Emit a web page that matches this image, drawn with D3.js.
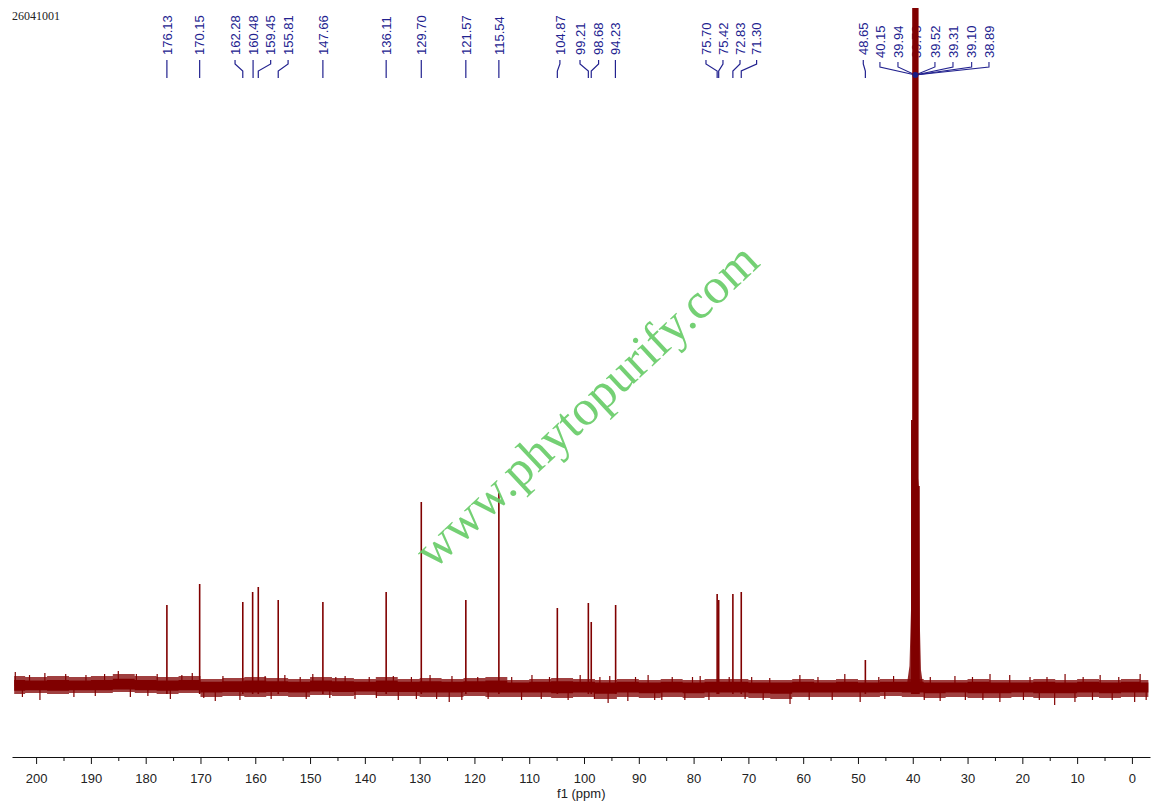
<!DOCTYPE html>
<html>
<head>
<meta charset="utf-8">
<script src="https://cdn.jsdelivr.net/npm/d3@7"></script>
<style>
  body { margin: 0; background: #fff; }
  svg { display: block; }
  .axis text { font-family: "Liberation Sans", Arial, sans-serif; font-size: 13px; fill: #222; }
  .axis path, .axis line { stroke: #111; }
  .plabel { font-family: "Liberation Sans", Arial, sans-serif; font-size: 13px; fill: #22228f; }
</style>
</head>
<body>
<svg id="chart" width="1153" height="809"></svg>
<script>
// peak list (ppm) and intensities
const peakPpm = [176.13, 170.15, 162.28, 160.48, 159.45, 155.81, 147.66, 136.11, 129.70, 121.57,
                 115.54, 104.87, 99.21, 98.68, 94.23, 75.70, 75.42, 72.83, 71.30, 48.65];
const peakHeight = [40.5, 51, 42, 47, 49.5, 43, 42, 47, 92, 43,
                    96.5, 39, 41.5, 32, 40.5, 46, 43, 46, 47, 13];

// DMSO-d6 septet
const solventPpm = [40.15, 39.94, 39.73, 39.52, 39.31, 39.10, 38.89];
const solventHeight = [133, 420, 800, 930, 800, 400, 100];

// where the peak labels sit (ppm), as placed in the picture
const labelText = ["176.13", "170.15", "162.28", "160.48", "159.45", "155.81", "147.66", "136.11", "129.70", "121.57",
                   "115.54", "104.87", "99.21", "98.68", "94.23", "75.70", "75.42", "72.83", "71.30", "48.65"];
const labelPpm = [176.13, 170.15, 163.69, 160.40, 157.19, 154.01, 147.66, 136.11, 129.70, 121.57,
                  115.54, 104.40, 100.73, 97.34, 94.27, 77.74, 74.64, 71.53, 68.50, 49.03];
const solventLabelText = ["40.15", "39.94", "39.73", "39.52", "39.31", "39.10", "38.89"];
const solventLabelPpm = [45.99, 42.70, 39.42, 35.95, 32.66, 29.25, 26.09];

// baseline noise envelope
const noisePpm = [204, 200, 196, 192, 188, 184, 180, 176, 172, 168, 164, 160, 156, 152, 148, 144, 140, 136, 132, 128,
                  124, 120, 116, 112, 108, 104, 100, 96, 92, 88, 84, 80, 76, 72, 68, 64, 60, 56, 52, 48,
                  44, 40, 36, 32, 28, 24, 20, 16, 12, 8, 4, 0, -3];
const noiseTop = [5, 4.5, 5, 4.5, 5, 6, 5, 4.5, 5, 3.5, 4, 4.5, 4, 3.5, 4.5, 4, 3.5, 4.5, 3.5, 4,
                  3.5, 4, 4.5, 3, 3.5, 4, 3.5, 3, 3.5, 3, 3.5, 3, 3.5, 3.5, 3, 3, 3.5, 3, 3.5, 3,
                  3.5, 3.5, 3, 3, 3.5, 3, 3, 3.5, 3, 3.5, 3, 3.5, 3];
const noiseBottom = [-4, -3.5, -4, -3.5, -3.5, -3, -3.5, -4, -3.5, -5.5, -5, -5.5, -5, -5.5, -4.5, -5, -4.5, -5, -5, -5.5,
                     -5.5, -5, -5.5, -5.5, -5.5, -6, -5.5, -6.5, -5.5, -6, -5.5, -6, -5.5, -5.5, -6, -6.5, -5.5, -5.5, -5.5, -5.5,
                     -5, -5.5, -6, -5.5, -6, -6, -5.5, -6, -6, -5.5, -6, -5.5, -5.5];
// the larger noise spikes poking out of the band
const spikePpm = [203.8, 201.2, 198.4, 194.6, 190.9, 187.5, 185, 181.7, 177.9, 173.4, 171.5, 165.9, 158.2, 154.6, 151.8,
                  149.5, 145.3, 143.6, 139.2, 134.8, 131.5, 128.1, 124.1, 119.4, 113.2, 109.5, 106.3, 100.7, 97.1, 95.3,
                  90.6, 88.3, 83.9, 80.2, 78.8, 73.5, 69.4, 66.1, 60.6, 57.3, 52.4, 46.2, 43.5, 36.8, 32.3, 29.1, 25.9,
                  22.3, 18.6, 15.5, 12.2, 8.9, 5.8, 2.4, -1.5,
                  202.5, 199.3, 193.1, 189.2, 182.8, 179.6, 175.5, 169.4, 167.3, 162.8, 157.1, 150.7, 146.4, 141.8,
                  137.9, 133.9, 130.6, 126.9, 124.6, 122.3, 117.5, 111.4, 107.8, 102.9, 98.1, 95.6, 92, 87.1, 85.8,
                  81.6, 77.2, 70.6, 67.3, 62.4, 58.9, 54.7, 49.6, 45.1, 37.9, 35, 30.4, 27.2, 24.1, 19.8, 16.9, 14.1,
                  10.4, 7.2, 3.6, -0.5, -2.6];
const spikeVal = [7, 5.5, 6.5, 6, 5.5, 6, 7.5, 6, 6, 5.5, 6.5, 5, 5, 5.5, 4.5,
                  6, 4.5, 5, 4.5, 5, 4.5, 5.5, 5, 4.5, 4.5, 5.5, 4.5, 5.5, 4.5, 5,
                  4.5, 5.5, 4.5, 4.5, 5, 4.5, 4.5, 4, 5.5, 4.5, 6, 4.5, 5, 4.5, 5, 4.5, 6,
                  5.5, 4.5, 4.5, 6, 4.5, 5.5, 4.5, 6,
                  -5.5, -7, -5.5, -5, -5.5, -5, -6.5, -6, -7.5, -7, -6.5, -6.5, -6, -6.5,
                  -6, -7, -6.5, -6.5, -8, -7, -6.5, -7, -6.5, -7, -6.5, -8.5, -7.5, -7, -7,
                  -7, -7, -6.5, -7, -9, -7, -7, -8, -6.5, -7, -7.5, -7, -7, -8, -7, -7, -9.5,
                  -8, -7, -7, -8, -7];

const xTicks = d3.range(0, 201, 10);
const xMinor = d3.range(5, 200, 10);

const red = "#800000";
const blue = "#22228f";
const svg = d3.select("#chart");

const x = d3.scaleLinear().domain([204.4, -3.3]).range([12, 1150]);
const y = d3.scaleLinear().domain([0, 100]).range([686, 486]);

svg.append("defs").append("clipPath").attr("id", "plotclip")
  .append("rect").attr("x", 12).attr("y", 8).attr("width", 1138).attr("height", 740);

// sample id
svg.append("text").attr("x", 12).attr("y", 20)
  .style("font-family", "'Liberation Serif', serif").style("font-size", "12px").style("fill", "#222")
  .text("26041001");

// peak labels with leader lines
const labels = svg.append("g");
const textBottom = 55;
peakPpm.forEach((p, i) => {
  const lx = x(labelPpm[i]), px = x(p);
  labels.append("text").attr("class", "plabel")
    .attr("transform", `translate(${lx},${textBottom}) rotate(-90)`)
    .attr("dy", "0.36em").text(labelText[i]);
  const path = Math.abs(lx - px) < 1.5
    ? `M${lx},60 L${lx},78`
    : `M${lx},60 L${lx},64 L${px},71 L${px},78`;
  labels.append("path").attr("d", path).attr("fill", "none").attr("stroke", blue).attr("stroke-width", 1.2);
});

// solvent labels converge on one point
const hub = [x(d3.mean(solventPpm)), 75];
solventPpm.forEach((p, i) => {
  const lx = x(solventLabelPpm[i]);
  labels.append("text").attr("class", "plabel")
    .attr("transform", `translate(${lx},${textBottom + 3}) rotate(-90)`)
    .attr("dy", "0.36em").text(solventLabelText[i]);
  labels.append("path").attr("d", `M${lx},62 L${lx},67 L${hub[0]},${hub[1]}`)
    .attr("fill", "none").attr("stroke", blue).attr("stroke-width", 1.1);
});

// spectrum
const spec = svg.append("g").attr("clip-path", "url(#plotclip)");

const band = k => d3.area()
  .curve(d3.curveStep)
  .x((d, i) => x(noisePpm[i]))
  .y0((d, i) => y(noiseBottom[i] * k))
  .y1((d, i) => y(noiseTop[i] * k));
spec.append("path").datum(noisePpm).attr("d", band(1)).attr("fill", red).attr("opacity", 0.75);
spec.append("path").datum(noisePpm).attr("d", band(0.6)).attr("fill", red);

spec.selectAll(".spike").data(spikePpm).enter().append("line")
  .attr("x1", d => x(d)).attr("x2", d => x(d))
  .attr("y1", y(0)).attr("y2", (d, i) => y(spikeVal[i]))
  .attr("stroke", red).attr("stroke-width", 1.2);

spec.selectAll(".peak").data(peakPpm).enter().append("line")
  .attr("x1", d => x(d)).attr("x2", d => x(d))
  .attr("y1", y(-4)).attr("y2", (d, i) => y(peakHeight[i]))
  .attr("stroke", red).attr("stroke-width", 1.6);

// broad foot under the solvent multiplet
const foot = d3.area()
  .x(d => x(d[0])).y0(y(-3)).y1(d => y(d[1]));
const footPts = [[41.0, 2], [40.6, 10], [40.3, 40], [40.15, 133], [38.89, 100], [38.7, 30], [38.5, 8], [38.2, 2]];
spec.append("path").datum(footPts).attr("d", foot).attr("fill", red).attr("opacity", 0.85);

spec.selectAll(".solv").data(solventPpm).enter().append("line")
  .attr("x1", d => x(d)).attr("x2", d => x(d))
  .attr("y1", y(-4)).attr("y2", (d, i) => y(solventHeight[i]))
  .attr("stroke", red).attr("stroke-width", 1.8);

svg.append("circle").attr("cx", hub[0]).attr("cy", hub[1]).attr("r", 3).attr("fill", "#1a1a80");

// axis
const axisY = 757;
const xAxis = d3.axisBottom(x).tickValues(xTicks).tickSize(7).tickSizeOuter(0).tickPadding(10)
  .tickFormat(d3.format("d"));
svg.append("g").attr("class", "axis").attr("transform", `translate(0,${axisY})`).call(xAxis);
const minor = svg.append("g").attr("class", "axis").attr("transform", `translate(0,${axisY})`)
  .call(d3.axisBottom(x).tickValues(xMinor).tickSize(4).tickFormat(""));
minor.select(".domain").remove();

svg.append("text").attr("x", x(100.5)).attr("y", 798).attr("text-anchor", "middle")
  .style("font-family", "'Liberation Sans', Arial, sans-serif").style("font-size", "13px").style("fill", "#222")
  .text("f1 (ppm)");

// watermark
svg.append("text")
  .attr("transform", "translate(586,405) rotate(-43)")
  .attr("text-anchor", "middle").attr("dominant-baseline", "central")
  .style("font-family", "'Liberation Serif', 'Times New Roman', serif").style("font-size", "50px")
  .style("fill", "#66cc66").style("opacity", 0.9)
  .text("www.phytopurify.com");
</script>
</body>
</html>
